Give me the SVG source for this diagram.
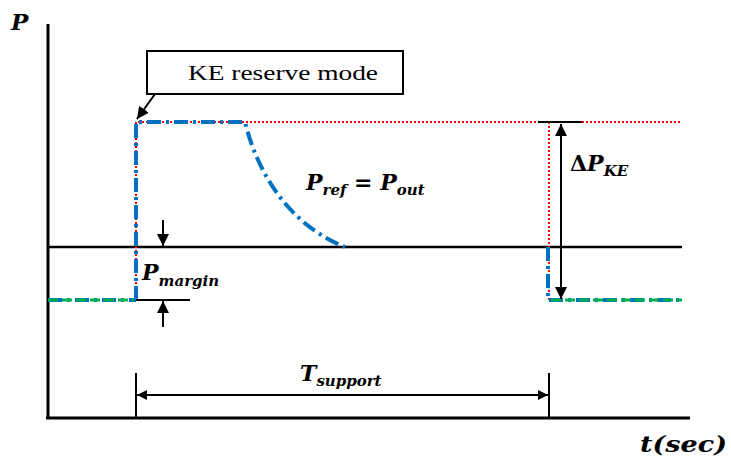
<svg xmlns="http://www.w3.org/2000/svg" width="731" height="461" viewBox="0 0 731 461">
<style>
.ax{stroke:#000;stroke-width:3;fill:none}
.bk{stroke:#000;stroke-width:2.5;fill:none}
.thin{stroke:#000;stroke-width:2;fill:none}
.red{stroke:#ff0000;stroke-width:2;stroke-dasharray:2 2;fill:none}
.blue{stroke:#0070c0;stroke-width:4;stroke-dasharray:14 5 3 5;fill:none}
.green{stroke:#00b050;stroke-width:3;stroke-dasharray:10 4;fill:none}
.m{font-family:"DejaVu Serif",serif;font-weight:bold;font-style:italic;fill:#000}
.lbl{font-family:"Liberation Serif","DejaVu Serif",serif;font-size:22px;fill:#000}
</style>
<defs>
<marker id="ah" viewBox="0 0 10 10" refX="10" refY="5" markerWidth="10" markerHeight="10" markerUnits="userSpaceOnUse" orient="auto-start-reverse">
<path d="M0,0 L10,5 L0,10 z" fill="#000"/>
</marker>
<marker id="ah2" viewBox="0 0 10 10" refX="10" refY="5" markerWidth="12" markerHeight="12" markerUnits="userSpaceOnUse" orient="auto-start-reverse">
<path d="M0,0 L10,5 L0,10 z" fill="#000"/>
</marker>
</defs>
<rect width="731" height="461" fill="#fff"/>
<g id="axes">
<line class="ax" x1="48" y1="24" x2="48" y2="419"/>
<line class="ax" x1="46" y1="418" x2="690" y2="418"/>
<line class="bk" x1="48" y1="247" x2="682" y2="247"/>
</g>
<g id="signals">
<path class="red" d="M136,300 L136,122 L682,122"/>
<line class="red" x1="549" y1="122" x2="549" y2="300"/>
<line class="blue" x1="48" y1="300" x2="136" y2="300" stroke-width="3"/>
<line class="blue" x1="549" y1="300" x2="682" y2="300" stroke-width="3"/>
<line class="green" x1="48" y1="300" x2="134" y2="300"/>
<line class="green" x1="551" y1="300" x2="682" y2="300"/>
<path class="blue" d="M136,300 L136,122 L245,122 C258,175 290,225 345,247"/>
<path class="blue" d="M548,247 L548,300"/>
</g>
<g id="connectors">
<line class="thin" x1="155" y1="94" x2="137" y2="119" marker-end="url(#ah2)"/>
<line class="thin" x1="538" y1="122" x2="582" y2="122"/>
<line class="thin" x1="561" y1="124" x2="561" y2="299" marker-start="url(#ah2)" marker-end="url(#ah2)"/>
<line class="thin" x1="136" y1="300" x2="190" y2="300"/>
<line class="thin" x1="163" y1="220" x2="163" y2="246" marker-end="url(#ah2)"/>
<line class="thin" x1="163" y1="327" x2="163" y2="301" marker-end="url(#ah2)"/>
<line class="thin" x1="136" y1="373" x2="136" y2="418"/>
<line class="thin" x1="549" y1="373" x2="549" y2="418"/>
<line class="thin" x1="137" y1="395" x2="548" y2="395" marker-start="url(#ah)" marker-end="url(#ah)"/>
</g>
<g id="ke-box">
<rect x="147" y="51" width="256" height="43" fill="#fff" stroke="#000" stroke-width="2"/>
<text class="lbl" x="188" y="80" textLength="190" lengthAdjust="spacingAndGlyphs">KE reserve  mode</text>
</g>
<g id="labels">
<text class="m" x="11" y="30" font-size="23">P</text>
<text class="m" x="640" y="452" font-size="23" textLength="87" lengthAdjust="spacingAndGlyphs">t(sec)</text>
<text class="m" x="306" y="190" font-size="22">P<tspan font-size="15" dy="5">ref</tspan><tspan dy="-5" font-style="normal"> = </tspan>P<tspan font-size="15" dy="5">out</tspan></text>
<text class="m" x="142" y="280" font-size="22">P<tspan font-size="15" dy="6">margin</tspan></text>
<text class="m" x="570" y="171" font-size="22"><tspan font-style="normal">Δ</tspan>P<tspan font-size="15" dy="5">KE</tspan></text>
<text class="m" x="300" y="381" font-size="22">T<tspan font-size="15" dy="5">support</tspan></text>
</g>
</svg>
